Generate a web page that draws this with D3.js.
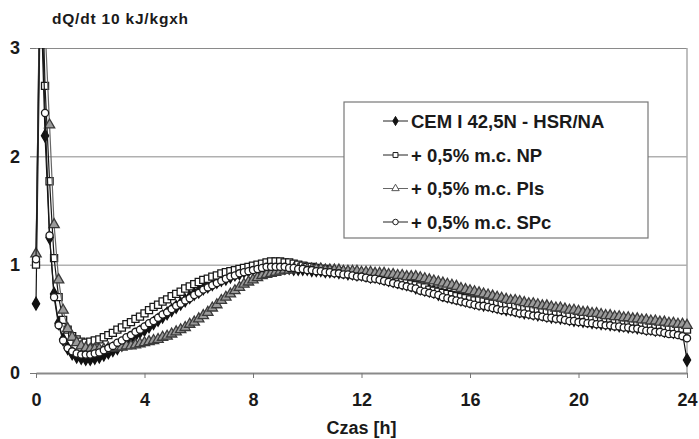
<!DOCTYPE html>
<html>
<head>
<meta charset="utf-8">
<script src="https://cdn.jsdelivr.net/npm/d3@7"></script>
<style>
  body { margin: 0; background: #fff; }
  svg text { font-family: "Liberation Sans", Arial, sans-serif; font-weight: bold; fill: #1a1a1a; }
</style>
</head>
<body>
<svg id="chart" width="699" height="439"></svg>
<script>
// Heat-flow readings, one value every 10 minutes from 0 h to 24 h (145 samples per series).
const sampleStepMinutes = 10;

const seriesNames = [
  "CEM I 42,5N - HSR/NA",
  "+ 0,5% m.c. NP",
  "+ 0,5% m.c. PIs",
  "+ 0,5% m.c. SPc"
];

// each row below = one hour (six 10-minute readings)
const cemValues = [
  0.64, 3.60, 2.19, 1.25, 0.73, 0.46,
  0.31, 0.23, 0.18, 0.15, 0.14, 0.13,
  0.13, 0.14, 0.15, 0.17, 0.19, 0.21,
  0.23, 0.26, 0.29, 0.32, 0.35, 0.38,
  0.40, 0.43, 0.46, 0.49, 0.52, 0.55,
  0.58, 0.61, 0.64, 0.67, 0.70, 0.73,
  0.75, 0.78, 0.80, 0.82, 0.84, 0.86,
  0.87, 0.89, 0.91, 0.92, 0.94, 0.95,
  0.96, 0.96, 0.97, 0.97, 0.97, 0.97,
  0.97, 0.97, 0.97, 0.96, 0.96, 0.96,
  0.96, 0.95, 0.95, 0.95, 0.94, 0.94,
  0.94, 0.93, 0.93, 0.92, 0.92, 0.91,
  0.91, 0.90, 0.89, 0.89, 0.88, 0.87,
  0.86, 0.85, 0.84, 0.83, 0.82, 0.81,
  0.79, 0.78, 0.77, 0.76, 0.75, 0.73,
  0.72, 0.71, 0.70, 0.69, 0.68, 0.67,
  0.66, 0.65, 0.64, 0.63, 0.63, 0.62,
  0.61, 0.60, 0.59, 0.59, 0.58, 0.57,
  0.56, 0.56, 0.55, 0.54, 0.54, 0.53,
  0.52, 0.52, 0.51, 0.51, 0.50, 0.49,
  0.49, 0.48, 0.48, 0.47, 0.47, 0.46,
  0.46, 0.45, 0.45, 0.44, 0.44, 0.43,
  0.43, 0.42, 0.42, 0.41, 0.41, 0.40,
  0.40, 0.39, 0.39, 0.38, 0.38, 0.37,
  0.12
];

const npValues = [
  1.00, 4.20, 2.65, 1.77, 1.06, 0.70,
  0.49, 0.40, 0.34, 0.31, 0.29, 0.28,
  0.29, 0.30, 0.31, 0.33, 0.35, 0.37,
  0.40, 0.42, 0.45, 0.47, 0.50, 0.52,
  0.55, 0.58, 0.61, 0.63, 0.66, 0.68,
  0.71, 0.73, 0.75, 0.78, 0.80, 0.82,
  0.84, 0.86, 0.87, 0.89, 0.90, 0.92,
  0.93, 0.94, 0.95, 0.96, 0.97, 0.98,
  0.99, 1.00, 1.01, 1.02, 1.03, 1.03,
  1.03, 1.02, 1.02, 1.01, 1.00, 0.99,
  0.98, 0.98, 0.97, 0.96, 0.96, 0.95,
  0.94, 0.94, 0.93, 0.92, 0.92, 0.91,
  0.90, 0.90, 0.89, 0.88, 0.88, 0.87,
  0.86, 0.86, 0.85, 0.84, 0.83, 0.82,
  0.81, 0.80, 0.79, 0.77, 0.76, 0.75,
  0.74, 0.73, 0.72, 0.71, 0.70, 0.69,
  0.68, 0.67, 0.67, 0.66, 0.65, 0.64,
  0.64, 0.63, 0.62, 0.62, 0.61, 0.60,
  0.60, 0.59, 0.58, 0.58, 0.57, 0.57,
  0.56, 0.55, 0.55, 0.54, 0.54, 0.53,
  0.52, 0.52, 0.51, 0.51, 0.50, 0.50,
  0.49, 0.49, 0.48, 0.48, 0.47, 0.47,
  0.46, 0.46, 0.45, 0.45, 0.44, 0.44,
  0.43, 0.43, 0.42, 0.42, 0.41, 0.41,
  0.40
];

const pisValues = [
  1.10, 4.00, 3.20, 2.29, 1.37, 0.86,
  0.58, 0.41, 0.33, 0.28, 0.25, 0.23,
  0.22, 0.22, 0.22, 0.22, 0.23, 0.23,
  0.24, 0.24, 0.25, 0.25, 0.26, 0.27,
  0.28, 0.29, 0.30, 0.31, 0.33, 0.34,
  0.36, 0.38, 0.40, 0.42, 0.45, 0.47,
  0.50, 0.53, 0.56, 0.60, 0.63, 0.67,
  0.70, 0.73, 0.76, 0.79, 0.82, 0.84,
  0.86, 0.88, 0.90, 0.91, 0.92, 0.93,
  0.94, 0.95, 0.95, 0.96, 0.96, 0.96,
  0.96, 0.96, 0.96, 0.96, 0.95, 0.95,
  0.95, 0.95, 0.94, 0.94, 0.94, 0.94,
  0.93, 0.93, 0.93, 0.92, 0.92, 0.92,
  0.91, 0.91, 0.90, 0.90, 0.89, 0.89,
  0.89, 0.88, 0.87, 0.86, 0.85, 0.84,
  0.83, 0.82, 0.81, 0.80, 0.78, 0.77,
  0.76, 0.75, 0.74, 0.73, 0.72, 0.71,
  0.70, 0.69, 0.68, 0.67, 0.67, 0.66,
  0.65, 0.64, 0.64, 0.63, 0.62, 0.62,
  0.61, 0.60, 0.60, 0.59, 0.58, 0.58,
  0.57, 0.56, 0.56, 0.55, 0.55, 0.54,
  0.53, 0.53, 0.52, 0.52, 0.51, 0.51,
  0.50, 0.50, 0.49, 0.49, 0.48, 0.48,
  0.47, 0.47, 0.46, 0.46, 0.45, 0.45,
  0.44
];

const spcValues = [
  1.05, 3.80, 2.40, 1.27, 0.70, 0.44,
  0.30, 0.23, 0.20, 0.18, 0.17, 0.17,
  0.17, 0.18, 0.19, 0.21, 0.23, 0.25,
  0.28, 0.30, 0.33, 0.35, 0.38, 0.40,
  0.43, 0.46, 0.48, 0.51, 0.54, 0.56,
  0.59, 0.62, 0.64, 0.67, 0.69, 0.72,
  0.74, 0.77, 0.79, 0.81, 0.83, 0.85,
  0.87, 0.89, 0.90, 0.92, 0.93, 0.94,
  0.95, 0.96, 0.97, 0.98, 0.98, 0.98,
  0.98, 0.98, 0.97, 0.97, 0.96, 0.96,
  0.95, 0.95, 0.94, 0.94, 0.93, 0.93,
  0.92, 0.92, 0.91, 0.91, 0.90, 0.89,
  0.89, 0.88, 0.87, 0.87, 0.86, 0.85,
  0.84, 0.83, 0.82, 0.81, 0.80, 0.79,
  0.78, 0.76, 0.75, 0.74, 0.73, 0.72,
  0.70, 0.69, 0.68, 0.67, 0.66, 0.65,
  0.64, 0.63, 0.62, 0.62, 0.61, 0.60,
  0.59, 0.58, 0.58, 0.57, 0.56, 0.55,
  0.55, 0.54, 0.53, 0.53, 0.52, 0.51,
  0.51, 0.50, 0.50, 0.49, 0.48, 0.48,
  0.47, 0.47, 0.46, 0.46, 0.45, 0.45,
  0.44, 0.44, 0.43, 0.43, 0.42, 0.42,
  0.41, 0.41, 0.40, 0.39, 0.39, 0.38,
  0.38, 0.37, 0.36, 0.36, 0.35, 0.34,
  0.32
];

const xTickValues = [0, 4, 8, 12, 16, 20, 24];
const yTickValues = [0, 1, 2, 3];
const xAxisTitle = "Czas [h]";
const yAxisTitle = "dQ/dt 10 kJ/kgxh";

// ---- layout ----
const svg = d3.select("#chart");
const plot = { left: 36, right: 687, top: 48, bottom: 373 };

const x = d3.scaleLinear().domain([0, 24]).range([plot.left, plot.right]);
const y = d3.scaleLinear().domain([0, 3]).range([plot.bottom, plot.top]);

const toPoints = vals => vals.map((v, i) => ({ t: i * sampleStepMinutes / 60, v }));

const styles = [
  { symbol: d3.symbolDiamond,  size: 46, fill: "#111",    stroke: "#111", line: "#111", legendFill: "#111" },
  { symbol: d3.symbolSquare,   size: 50, fill: "#fff",    stroke: "#1a1a1a", line: "#1a1a1a", legendFill: "#fff" },
  { symbol: d3.symbolTriangle, size: 46, fill: "#9a9a9a", stroke: "#3a3a3a", line: "#666", legendFill: "#fff" },
  { symbol: d3.symbolCircle,   size: 40, fill: "#fff",    stroke: "#1a1a1a", line: "#1a1a1a", legendFill: "#fff" }
];
const allValues = [cemValues, npValues, pisValues, spcValues];

// horizontal gridlines at 1, 2, 3
svg.append("g")
  .attr("transform", `translate(${plot.left},0)`)
  .call(d3.axisLeft(y).tickValues([1, 2, 3]).tickSize(-(plot.right - plot.left)).tickFormat(""))
  .call(g => g.select(".domain").remove())
  .call(g => g.selectAll("line").attr("stroke", "#8a8a8a").attr("stroke-width", 1));

// right frame edge
svg.append("line")
  .attr("x1", plot.right).attr("x2", plot.right)
  .attr("y1", plot.top).attr("y2", plot.bottom)
  .attr("stroke", "#aaa").attr("stroke-width", 1.5);

// y ticks + labels (no axis spine)
svg.append("g")
  .attr("transform", `translate(${plot.left},0)`)
  .call(d3.axisLeft(y).tickValues(yTickValues).tickSize(6).tickPadding(10).tickFormat(d3.format("d")))
  .call(g => g.select(".domain").remove())
  .call(g => g.selectAll("line").attr("stroke", "#777").attr("stroke-width", 1))
  .call(g => g.selectAll("text").attr("font-size", 18).attr("fill", "#1a1a1a")
    .attr("font-family", "Liberation Sans, Arial, sans-serif").attr("font-weight", "bold"));

// x axis
svg.append("g")
  .attr("transform", `translate(0,${plot.bottom})`)
  .call(d3.axisBottom(x).tickValues(xTickValues).tickSize(5).tickSizeOuter(0).tickPadding(15))
  .call(g => g.select(".domain").attr("stroke", "#8a8a8a").attr("stroke-width", 2))
  .call(g => g.selectAll("line").attr("stroke", "#777").attr("stroke-width", 1))
  .call(g => g.selectAll("text").attr("font-size", 18).attr("fill", "#1a1a1a")
    .attr("font-family", "Liberation Sans, Arial, sans-serif").attr("font-weight", "bold"));

// axis titles
svg.append("text")
  .attr("x", (plot.left + plot.right) / 2).attr("y", 434)
  .attr("text-anchor", "middle").attr("font-size", 18)
  .text(xAxisTitle);
svg.append("text")
  .attr("x", 52).attr("y", 24)
  .attr("font-size", 15.5).attr("letter-spacing", 0.8)
  .text(yAxisTitle);

// clip data above the top of the value range
svg.append("clipPath").attr("id", "plotClip")
  .append("rect").attr("x", 0).attr("y", plot.top).attr("width", 699).attr("height", 439 - plot.top);

const dataLayer = svg.append("g").attr("clip-path", "url(#plotClip)");
const line = d3.line().x(d => x(d.t)).y(d => y(d.v));

allValues.forEach((vals, i) => {
  const st = styles[i];
  const pts = toPoints(vals);
  const g = dataLayer.append("g");
  g.append("path").datum(pts)
    .attr("d", line).attr("fill", "none")
    .attr("stroke", st.line).attr("stroke-width", 1.2);
  g.selectAll("path.m").data(pts).join("path")
    .attr("class", "m")
    .attr("transform", d => `translate(${x(d.t)},${y(d.v)})`)
    .attr("d", d3.symbol().type(st.symbol).size(st.size))
    .attr("fill", st.fill).attr("stroke", st.stroke).attr("stroke-width", 1.3);
});

// legend
const legend = svg.append("g");
legend.append("rect")
  .attr("x", 344).attr("y", 102).attr("width", 304).attr("height", 136)
  .attr("fill", "#fff").attr("stroke", "#777").attr("stroke-width", 1.2);
const legendRows = [121, 155, 188.5, 222];
seriesNames.forEach((name, i) => {
  const st = styles[i];
  const ly = legendRows[i];
  legend.append("line")
    .attr("x1", 383).attr("x2", 408).attr("y1", ly).attr("y2", ly)
    .attr("stroke", i === 2 ? "#666" : "#222").attr("stroke-width", 1);
  legend.append("path")
    .attr("transform", `translate(395.5,${ly})`)
    .attr("d", d3.symbol().type(st.symbol).size(24))
    .attr("fill", st.legendFill).attr("stroke", i === 2 ? "#555" : st.stroke).attr("stroke-width", 1);
  legend.append("text")
    .attr("x", 411).attr("y", ly + 6.5)
    .attr("font-size", 18.5)
    .text(name);
});
</script>
</body>
</html>
